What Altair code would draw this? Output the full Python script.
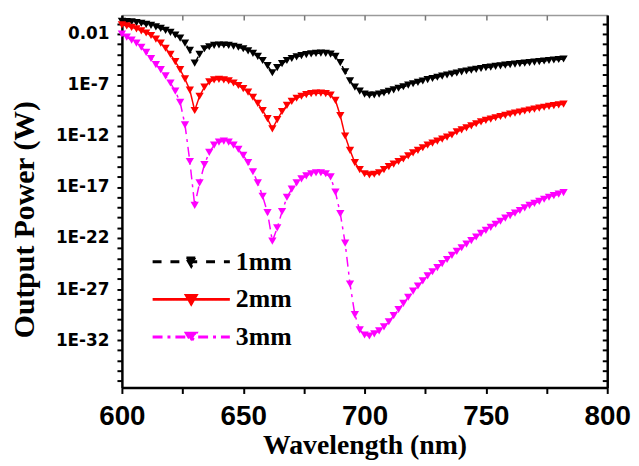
import altair as alt
import pandas as pd

wavelength = list(range(600, 784, 2))

# log10 of output power (W), every 2 nm
exp_1mm = [-0.75, -0.78, -0.82, -0.88, -0.95, -1.05, -1.15, -1.30, -1.45, -1.65,
           -1.85, -2.10, -2.40, -2.90, -3.60, -4.85, -4.00, -3.45, -3.25, -3.12,
           -3.08, -3.08, -3.12, -3.20, -3.30, -3.45, -3.65, -3.90, -4.20, -4.60,
           -5.10, -5.80, -5.30, -4.90, -4.60, -4.40, -4.25, -4.12, -4.02, -3.95,
           -3.90, -3.88, -3.90, -3.98, -4.20, -4.80, -5.70, -6.60, -7.20, -7.60,
           -7.90, -8.00, -7.98, -7.90, -7.78, -7.62, -7.47, -7.32, -7.17, -7.02,
           -6.88, -6.74, -6.61, -6.48, -6.36, -6.24, -6.13, -6.02, -5.92, -5.82,
           -5.72, -5.63, -5.54, -5.46, -5.38, -5.30, -5.24, -5.18, -5.12, -5.06,
           -5.00, -4.95, -4.90, -4.85, -4.80, -4.75, -4.70, -4.65, -4.60, -4.55,
           -4.50, -4.45]
exp_2mm = [-1.10, -1.20, -1.35, -1.50, -1.70, -1.90, -2.15, -2.50, -2.90, -3.40,
           -4.00, -4.70, -5.50, -6.40, -7.50, -9.50, -8.10, -7.20, -6.70, -6.50,
           -6.45, -6.50, -6.60, -6.80, -7.05, -7.35, -7.70, -8.20, -8.80, -9.50,
           -10.30, -11.30, -10.40, -9.60, -9.00, -8.60, -8.30, -8.10, -7.95, -7.85,
           -7.80, -7.80, -7.85, -8.00, -8.50, -10.00, -12.00, -13.40, -14.60, -15.30,
           -15.70, -15.80, -15.75, -15.60, -15.30, -15.00, -14.75, -14.50, -14.25, -13.95,
           -13.65, -13.40, -13.15, -12.90, -12.70, -12.50, -12.30, -12.10, -11.90, -11.60,
           -11.40, -11.20, -11.00, -10.80, -10.62, -10.47, -10.34, -10.21, -10.09, -9.97,
           -9.86, -9.75, -9.65, -9.55, -9.45, -9.36, -9.27, -9.18, -9.10, -9.02,
           -8.95, -8.88]
exp_3mm = [-2.00, -2.30, -2.60, -2.90, -3.30, -3.80, -4.40, -5.00, -5.50, -6.10,
           -6.80, -7.60, -8.70, -10.90, -14.50, -18.80, -16.60, -14.80, -13.60, -12.90,
           -12.60, -12.50, -12.60, -12.90, -13.30, -13.90, -14.60, -15.50, -16.60, -17.90,
           -19.50, -22.30, -21.00, -19.40, -18.00, -17.20, -16.60, -16.20, -15.90, -15.70,
           -15.60, -15.60, -15.70, -16.00, -17.50, -19.60, -22.50, -26.50, -29.50, -31.00,
           -31.50, -31.60, -31.40, -31.10, -30.70, -30.20, -29.60, -29.00, -28.40, -27.80,
           -27.20, -26.70, -26.20, -25.70, -25.30, -24.90, -24.50, -24.10, -23.70, -23.30,
           -22.95, -22.60, -22.25, -21.90, -21.55, -21.25, -20.95, -20.65, -20.35, -20.05,
           -19.80, -19.55, -19.30, -19.05, -18.80, -18.60, -18.40, -18.20, -18.00, -17.85,
           -17.70, -17.55]

series_names = ["1mm", "2mm", "3mm"]
series_colors = ["#000000", "#ff0000", "#ff00ff"]
series_dash = [[9, 9], [1, 0], [10, 5, 3, 5]]
x_tick_values = list(range(600, 801, 25))
y_tick_values = [10.0 ** -k for k in range(1, 37)]

rows = []
for name, exps in zip(series_names, [exp_1mm, exp_2mm, exp_3mm]):
    for w, e in zip(wavelength, exps):
        rows.append({"wl": w, "power": 10.0 ** e, "series": name})
df = pd.DataFrame(rows)

xs = alt.Scale(domain=[600, 800], nice=False)
ys = alt.Scale(type="log", domain=[10 ** -36.65, 10 ** -0.15], nice=False)
cs = alt.Scale(domain=series_names, range=series_colors)
ds = alt.Scale(domain=series_names, range=series_dash)

legend_path = "M-4,0H4M-0.5,-0.4H0.5L0,0.45Z"
leg = alt.Legend(orient="none", legendX=57, legendY=236, title=None,
                 symbolType=legend_path, symbolSize=380, symbolStrokeWidth=3,
                 labelFont="Liberation Serif", labelFontWeight="bold",
                 labelFontSize=26, labelColor="black", labelOffset=32,
                 rowPadding=12, padding=0)

y_label_expr = ("round(log(datum.value)/LN10) == -2 ? '0.01' : "
                "((round(log(datum.value)/LN10) + 2) % 5 == 0 ? "
                "'1E' + round(log(datum.value)/LN10) : '')")

bottom_axis = alt.Axis(orient="bottom", values=x_tick_values,
                       labelExpr="datum.value % 50 == 0 ? datum.label : ''",
                       labelFlush=False, labelOverlap=False,
                       labelFont="Liberation Sans", labelFontWeight="bold",
                       labelFontSize=28, labelColor="black", labelPadding=9,
                       tickSize=6, tickWidth=2, tickColor="black",
                       domainColor="black", domainWidth=2.5, grid=False,
                       title="Wavelength (nm)", titleFont="Liberation Serif",
                       titleFontWeight="bold", titleFontSize=28, titleColor="black",
                       titleX=245, titleY=67, titleBaseline="alphabetic",
                       titleAlign="center")
left_axis = alt.Axis(orient="left", values=y_tick_values, labelExpr=y_label_expr,
                     labelOverlap=False, labelFont="DejaVu Sans",
                     labelFontWeight="bold", labelFontSize=17, labelColor="black",
                     labelPadding=8, tickSize=5, tickWidth=2, tickColor="black",
                     domainColor="black", domainWidth=2.5, grid=False,
                     title="Output Power (W)", titleFont="Liberation Serif",
                     titleFontWeight="bold", titleFontSize=30, titleColor="black",
                     titleAngle=270, titleX=-89, titleY=206, titleAlign="center",
                     titleBaseline="alphabetic")

lines = alt.Chart(df).mark_line(strokeWidth=1.5).encode(
    x=alt.X("wl:Q", scale=xs, axis=None),
    y=alt.Y("power:Q", scale=ys, axis=None),
    color=alt.Color("series:N", scale=cs, legend=leg),
    strokeDash=alt.StrokeDash("series:N", scale=ds, legend=leg),
    order="wl:Q",
)

points = alt.Chart(df).mark_point(shape="triangle-down", filled=True, size=70,
                                  opacity=1).encode(
    x=alt.X("wl:Q", scale=xs, axis=bottom_axis),
    y=alt.Y("power:Q", scale=ys, axis=left_axis),
    color=alt.Color("series:N", scale=cs, legend=leg),
)

frame = alt.Chart(df).mark_line(strokeOpacity=0).encode(
    x=alt.X("wl:Q", scale=xs,
            axis=alt.Axis(orient="top", ticks=False, labels=False,
                          domainColor="#9a9a9a", domainWidth=1.5, grid=False,
                          title=None)),
    y=alt.Y("power:Q", scale=ys,
            axis=alt.Axis(orient="right", ticks=False, labels=False,
                          domainColor="black", domainWidth=2.5, grid=False,
                          title=None)),
)

inner = alt.Chart(df).mark_line(strokeOpacity=0).encode(
    x=alt.X("wl:Q", scale=xs,
            axis=alt.Axis(orient="top", values=x_tick_values, labels=False,
                          domain=False, tickSize=5, tickWidth=1.5,
                          tickColor="#777777", offset=-5, grid=False, title=None)),
    y=alt.Y("power:Q", scale=ys,
            axis=alt.Axis(orient="right", values=y_tick_values, labels=False,
                          domain=False, tickSize=5, tickWidth=2,
                          tickColor="black", offset=-5, grid=False, title=None)),
)

chart = alt.layer(lines, points, frame, inner).resolve_axis(
    x="independent", y="independent"
).properties(
    width=490, height=376,
    autosize=alt.AutoSizeParams(type="none"),
    padding={"left": 115, "top": 5, "right": 24, "bottom": 72},
).configure_view(stroke="transparent")

chart.save("out.html", embed_options={"renderer": "svg", "actions": False})
